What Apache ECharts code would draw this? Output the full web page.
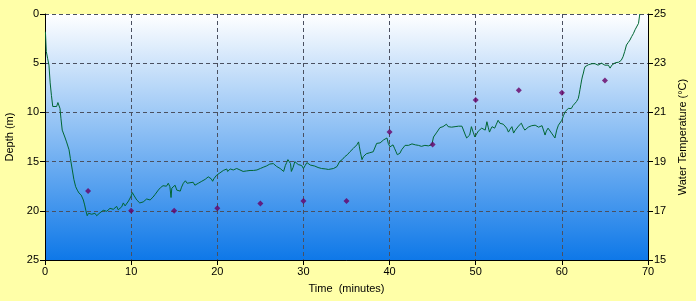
<!DOCTYPE html>
<html>
<head>
<meta charset="utf-8">
<script src="https://cdn.jsdelivr.net/npm/echarts@6/dist/echarts.min.js"></script>
<style>
html,body{margin:0;padding:0;background:#FFFFA8;}
#chart{width:696px;height:301px;}
</style>
</head>
<body>
<div id="chart"></div>
<script>
// Depth profile (time in minutes, depth in metres)
var depthTime = [0.05,0.15,0.3,0.46,0.6,0.75,0.9,1.1,1.35,1.5,1.6,1.74,1.85,2.0,2.1,2.3,2.5,2.79,2.95,3.17,3.35,3.56,3.75,3.95,4.1,4.2,4.45,4.6,4.75,4.9,5.05,5.2,5.42,5.6,5.8,6.0,6.2,6.38,6.55,6.77,6.95,7.16,7.35,7.55,7.75,7.93,8.1,8.32,8.5,8.7,8.9,9.09,9.3,9.48,9.7,9.87,10.0,10.14,10.3,10.45,10.65,10.83,11.0,11.22,11.4,11.6,11.8,12.0,12.2,12.38,12.55,12.77,12.96,13.15,13.4,13.7,13.9,14.1,14.31,14.5,14.63,14.72,14.9,15.1,15.3,15.5,15.7,15.85,16.06,16.3,16.5,16.83,17.0,17.2,17.4,17.6,17.8,18.0,18.2,18.4,18.6,18.77,18.95,19.15,19.3,19.46,19.6,19.7,19.9,20.1,20.3,20.5,20.7,20.9,21.1,21.2,21.5,21.7,21.86,22.05,22.25,22.45,22.64,22.8,23.0,23.2,23.4,23.6,23.8,24.0,24.2,24.4,24.6,24.8,25.0,25.2,25.4,25.55,25.7,25.9,26.1,26.3,26.5,26.7,26.9,27.1,27.3,27.5,27.7,27.9,28.05,28.2,28.4,28.5,28.6,28.8,29.0,29.2,29.4,29.6,29.8,30.0,30.2,30.4,30.6,30.8,31.0,31.3,31.5,31.7,31.9,32.1,32.3,32.6,32.9,33.2,33.5,33.7,33.9,34.05,34.2,34.5,34.8,35.1,35.4,35.6,35.8,36.0,36.2,36.4,36.5,36.6,36.8,36.95,37.1,37.3,37.5,37.7,37.9,38.1,38.3,38.5,38.7,38.9,39.1,39.3,39.5,39.7,39.85,40.05,40.2,40.4,40.6,40.75,40.9,41.05,41.2,41.4,41.6,41.8,42.0,42.2,42.4,42.6,42.8,43.0,43.2,43.35,43.5,43.7,43.9,44.1,44.3,44.5,44.7,44.9,45.0,45.1,45.3,45.5,45.7,45.85,46.0,46.2,46.4,46.6,46.8,47.0,47.2,47.4,47.6,47.8,48.0,48.2,48.4,48.6,48.8,48.95,49.1,49.3,49.5,49.7,49.9,50.1,50.3,50.5,50.7,50.9,51.1,51.3,51.45,51.6,51.75,51.9,52.05,52.2,52.4,52.6,52.8,53.0,53.2,53.4,53.6,53.8,54.0,54.2,54.4,54.6,54.8,55.05,55.3,55.5,55.7,55.9,56.1,56.3,56.5,56.7,56.9,57.1,57.3,57.5,57.7,57.85,58.05,58.2,58.4,58.6,58.8,59.0,59.2,59.4,59.6,59.8,60.0,60.2,60.4,60.6,60.75,60.9,61.1,61.3,61.5,61.7,61.9,62.0,62.1,62.2,62.3,62.4,62.5,62.6,62.7,62.9,63.1,63.3,63.5,63.7,63.85,64.0,64.2,64.4,64.6,64.8,65.0,65.2,65.4,65.6,65.8,66.0,66.2,66.4,66.6,66.75,66.9,67.1,67.3,67.5,67.7,67.9,68.1,68.3,68.5,68.7,68.9,69.0,69.05];
var depthValues = [1.8,3.8,4.5,5.2,7.0,8.3,9.4,9.4,9.4,9.0,9.2,9.6,10.6,11.8,12.0,12.5,13.0,13.8,14.7,15.85,16.8,17.55,17.9,18.2,18.2,18.4,18.9,19.4,20.0,20.5,20.25,20.4,20.35,20.2,20.25,20.5,20.3,20.2,20.35,19.95,20.15,20.05,19.85,19.75,19.95,19.85,19.7,19.55,19.9,20.1,19.6,19.2,19.5,19.35,19.0,18.9,18.5,18.15,18.4,18.6,18.9,19.05,19.2,19.4,19.1,18.9,18.8,18.7,18.9,18.75,18.6,18.35,18.15,17.9,17.65,17.45,17.35,17.5,17.2,17.55,18.65,17.7,17.5,17.4,17.9,17.75,18.0,17.6,17.2,16.95,17.2,17.15,17.3,17.1,17.4,17.45,17.2,17.15,17.0,16.9,16.8,16.7,16.55,16.5,16.75,17.0,16.75,16.6,16.4,16.2,16.15,16.0,15.9,15.7,15.75,16.0,15.75,15.65,15.85,15.75,15.7,15.85,15.85,15.95,16.0,15.85,15.95,15.85,15.9,15.8,15.9,15.75,15.85,15.8,15.7,15.75,15.55,15.65,15.45,15.4,15.25,15.35,15.2,15.25,15.5,15.6,15.7,15.85,16.0,15.4,15.1,14.8,14.7,15.2,16.0,15.6,15.0,15.1,15.3,15.2,15.4,15.7,15.4,15.1,15.3,15.35,15.5,15.45,15.6,15.6,15.55,15.7,15.8,15.75,15.8,15.75,15.7,15.6,15.5,15.3,15.0,14.8,14.5,14.3,14.0,13.8,13.65,13.5,13.3,13.0,13.5,14.0,14.8,14.5,14.3,14.2,14.25,14.1,14.15,14.0,13.8,13.15,13.0,13.1,12.9,12.8,12.75,12.6,13.15,13.5,13.35,13.3,13.7,14.0,14.3,14.2,14.15,13.8,13.6,13.35,13.15,13.35,13.3,13.2,13.15,13.3,13.3,13.35,13.4,13.45,13.5,13.35,13.3,13.4,13.4,13.3,13.25,12.5,12.3,12.0,11.8,11.55,11.6,11.45,11.4,11.2,11.45,11.55,11.5,11.35,11.45,11.6,11.4,11.2,11.4,11.6,12.3,12.6,12.5,12.3,11.45,12.0,12.5,12.2,11.9,11.75,11.6,11.7,11.8,10.95,11.5,12.0,11.7,11.45,11.5,11.6,11.2,10.8,11.1,11.3,11.2,11.1,11.6,12.0,11.7,11.45,12.1,11.8,11.6,11.3,11.1,11.5,11.8,11.6,11.5,11.4,11.35,11.45,11.3,11.4,11.5,11.45,11.35,11.3,12.3,11.9,11.6,11.8,12.1,12.3,12.6,11.8,11.3,11.1,10.8,10.3,9.9,9.75,9.6,9.7,9.6,9.3,9.1,8.9,8.6,8.2,7.7,7.2,6.7,6.3,6.0,5.6,5.35,5.2,5.15,5.0,5.05,5.0,5.05,5.1,5.2,5.05,5.0,5.1,5.2,5.15,5.2,5.5,5.2,5.0,4.95,4.85,4.9,4.85,4.7,4.35,3.8,3.15,2.9,2.65,2.3,2.0,1.6,1.45,0.95,0.3,0];

// Water temperature samples
var tempTime = [5,10,15,20,25,30,35,40,45,50,55,60,65];
var tempValues = [17.8,17.0,17.0,17.1,17.3,17.4,17.4,20.2,19.7,21.5,21.9,21.8,22.3];

var xTicks = {min:0, max:70, interval:10};
var depthTicks = {min:0, max:25, interval:5};
var tempTicks = {min:15, max:25, interval:2};

var depthData = depthTime.map(function(t,i){return [t, depthValues[i]];});
var tempData = tempTime.map(function(t,i){return [t, tempValues[i]];});

var chart = echarts.init(document.getElementById('chart'), null, {renderer:'canvas'});
var font = 'Liberation Sans, Arial, sans-serif';
var gridDash = {color:'#4a5060', width:1, type:[4,3]};
chart.setOption({
  backgroundColor:'#FFFFA8',
  animation:false,
  grid:{left:45,right:48,top:14,bottom:41,show:true,borderWidth:0,outerBoundsMode:'none',containLabel:false,
    backgroundColor:{type:'linear',x:0,y:0,x2:0,y2:1,colorStops:[
      {offset:0,color:'#FFFFFF'},{offset:1,color:'#0E78E8'}]}},
  xAxis:{type:'value',min:xTicks.min,max:xTicks.max,interval:xTicks.interval,
    name:'Time  (minutes)',nameLocation:'middle',nameGap:23,
    nameTextStyle:{fontFamily:font,fontSize:11,color:'#000'},
    axisLine:{show:true,onZero:false,lineStyle:{color:'#000',width:1}},
    axisTick:{show:true,length:5,lineStyle:{color:'#000'}},
    axisLabel:{fontFamily:font,fontSize:11,color:'#000',margin:6},
    splitLine:{show:true,lineStyle:gridDash}},
  yAxis:[{type:'value',inverse:true,min:depthTicks.min,max:depthTicks.max,interval:depthTicks.interval,
    position:'left',name:'Depth (m)',nameLocation:'middle',nameGap:23,nameRotate:90,
    nameTextStyle:{fontFamily:font,fontSize:11,color:'#000'},
    axisLine:{show:true,onZero:false,lineStyle:{color:'#000',width:1}},
    axisTick:{show:true,length:5,lineStyle:{color:'#000'}},
    axisLabel:{fontFamily:font,fontSize:11,color:'#000',margin:6},
    splitLine:{show:true,lineStyle:gridDash}},
   {type:'value',min:tempTicks.min,max:tempTicks.max,interval:tempTicks.interval,
    position:'right',name:'Water Temperature (\u00B0C)',nameLocation:'middle',nameGap:28,nameRotate:90,
    nameTextStyle:{fontFamily:font,fontSize:11,color:'#000'},
    axisLine:{show:true,onZero:false,lineStyle:{color:'#000',width:1}},
    axisTick:{show:true,length:5,lineStyle:{color:'#000'}},
    axisLabel:{fontFamily:font,fontSize:11,color:'#000',margin:6},
    splitLine:{show:false}}],
  series:[
    {type:'line',yAxisIndex:0,data:depthData,showSymbol:false,symbol:'none',
      lineStyle:{color:'#006633',width:1},z:3},
    {type:'scatter',yAxisIndex:1,data:tempData,symbol:'diamond',symbolSize:6,
      itemStyle:{color:'#660066'},z:4}
  ]
});
</script>
</body>
</html>
